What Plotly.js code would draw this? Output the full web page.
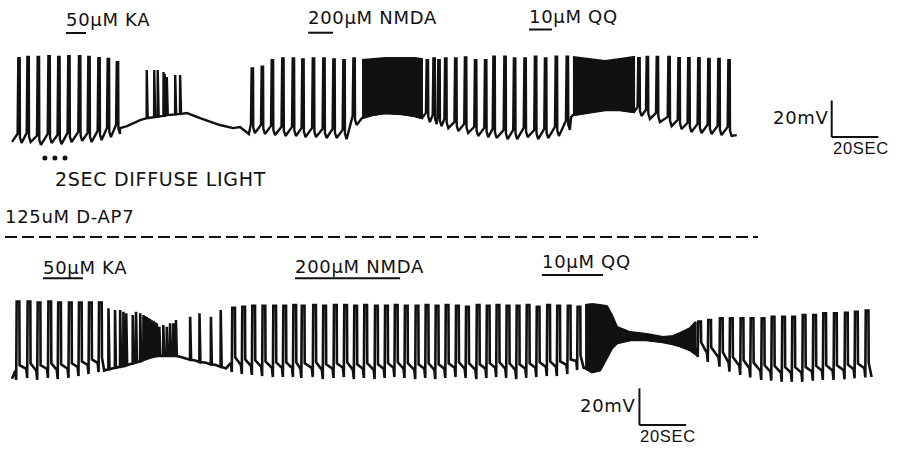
<!DOCTYPE html>
<html><head><meta charset="utf-8">
<script src="https://cdn.plot.ly/plotly-3.0.1.min.js"></script>
<style>html,body{margin:0;padding:0;background:#fff}.annotation-text{letter-spacing:0.7px}</style>
</head><body><div id="chart" style="width:900px;height:452px"></div>
<script>
// ===== DATA (time in s, membrane potential in mV) =====
// Upper record (control)
const topKnotT = [0.0, 46.3, 49.3, 54.9, 66.4, 75.0, 80.6, 89.1, 94.7, 97.7, 99.9, 101.5, 149.4, 239.6, 310.6];
const topKnotV = [-61.0, -53.5, -52.4, -49.1, -46.4, -45.3, -48.0, -51.8, -53.5, -52.9, -55.1, -56.7, -48.5, -47.5, -57.3];
const topSpikeT = [2.7, 6.6, 11.0, 15.6, 19.8, 24.1, 28.7, 32.7, 37.0, 41.0, 44.9,
  102.7, 107.0, 111.3, 115.8, 120.3, 124.4, 128.9, 133.4, 137.7, 142.0, 146.3,
  177.7, 180.6, 182.7, 185.6, 189.9, 194.1, 198.4, 202.7, 206.3, 211.0, 215.1, 219.6, 224.1, 228.4, 233.0, 237.7,
  268.4, 272.0, 276.3, 281.3, 285.6, 289.8, 294.1, 298.4, 302.7, 307.0];
const topSpikePeak = [-15.3, -14.7, -14.7, -14.2, -14.7, -14.2, -14.2, -14.7, -15.3, -15.8, -17.5,
  -20.9, -20.0, -16.4, -15.5, -15.5, -16.0, -15.5, -15.5, -16.0, -16.4, -15.5,
  -16.4, -15.5, -16.4, -15.5, -15.5, -14.9, -16.4, -16.4, -14.6, -14.6, -15.5, -15.5, -14.6, -15.5, -14.6, -14.6,
  -15.3, -14.7, -14.7, -14.7, -15.3, -15.3, -15.3, -15.8, -15.8, -16.4];
const topSpikeTrough = [-61.6, -61.1, -62.7, -61.6, -62.2, -61.1, -60.5, -61.1, -60.0, -58.4, -56.7,
  -56.2, -56.7, -57.3, -57.8, -57.8, -58.4, -58.4, -58.9, -58.9, -59.5, -51.8,
  -50.2, -51.3, -52.4, -53.5, -55.1, -56.2, -57.8, -58.4, -58.9, -59.5, -59.5, -58.4, -59.5, -58.9, -57.8, -54.5,
  -46.9, -48.5, -50.2, -52.4, -54.0, -55.6, -56.2, -56.7, -57.3, -57.8];
const topSmallT = [57.7, 60.9, 62.4, 64.9, 65.4, 66.3, 69.9, 72.0];
const topSmallPeak = [-21.8, -21.8, -21.8, -22.9, -24.0, -25.6, -24.5, -24.5];
const topSmallBase = [-48.0, -47.5, -47.2, -46.8, -46.6, -46.4, -46.0, -45.7];
const topBurstAT = [150.0, 154.3, 159.9, 167.1, 172.7, 175.7];
const topBurstATop = [-16.4, -15.8, -15.3, -15.3, -15.3, -15.8];
const topBurstABot = [-48.0, -46.4, -45.3, -45.8, -46.9, -48.0];
const topBurstBT = [240.4, 247.7, 254.1, 260.6, 266.6];
const topBurstBTop = [-14.7, -15.8, -16.9, -15.8, -14.7];
const topBurstBBot = [-46.4, -44.7, -43.6, -43.6, -44.7];
const lightT = [14.1, 18.4, 22.7];

// Lower record (125uM D-AP7)
const botKnotT = [0.0, 39.5, 72.0, 74.6, 78.9, 83.1, 87.4, 91.7, 245.0, 368.4];
const botKnotV = [-61.0, -56.5, -49.0, -49.8, -51.1, -52.2, -53.5, -55.3, -55.0, -60.0];
const botSpikeT = [2.0, 6.7, 11.0, 15.6, 19.8, 24.4, 28.7, 33.0, 37.3,
  94.4, 98.7, 103.0, 107.4, 112.0, 116.3, 120.6,
  124.2, 129.1, 133.4, 138.0, 142.4, 146.7, 151.0, 155.6, 159.9, 164.1, 168.4, 173.0, 177.3, 181.6,
  185.9, 190.3, 194.6, 199.2, 203.5, 207.7, 212.0, 216.3, 220.6, 224.9, 229.4, 233.7, 238.2, 242.4,
  294.1, 298.4, 303.4, 307.7, 312.3, 316.6, 321.3, 325.6, 330.1, 334.4, 338.9, 343.4, 347.7, 352.3, 357.0, 361.3, 365.9];
const botSpikePeak = [-18.9, -18.9, -19.4, -18.9, -19.4, -19.4, -19.4, -19.4, -19.4,
  -22.2, -21.7, -21.2, -21.2, -21.2, -21.2, -20.7,
  -21.2, -20.7, -21.2, -20.7, -20.7, -21.2, -20.7, -21.2, -21.2, -20.7, -21.2, -21.2, -20.7, -21.2,
  -20.7, -21.2, -21.7, -20.7, -21.2, -20.7, -21.2, -21.2, -20.7, -21.7, -20.7, -21.2, -21.2, -21.7,
  -29.8, -28.9, -28.0, -28.0, -28.0, -28.0, -28.0, -27.1, -27.1, -27.1, -26.2, -26.2, -25.3, -25.3, -25.0, -24.4, -23.8];
const botSpikeTrough = [-61.6, -60.5, -61.6, -60.5, -61.1, -60.5, -59.5, -58.4, -57.3,
  -57.3, -58.4, -58.9, -59.5, -60.0, -60.0, -60.0,
  -60.5, -60.0, -61.1, -60.5, -60.0, -61.1, -60.5, -61.1, -60.5, -60.0, -60.5, -61.1, -60.5, -61.1,
  -60.5, -60.0, -60.5, -61.1, -60.5, -60.0, -60.5, -61.1, -60.5, -60.0, -59.5, -59.5, -58.4, -56.2,
  -49.1, -51.8, -54.4, -57.1, -58.9, -60.2, -61.6, -62.0, -62.6, -62.6, -62.6, -62.0, -61.6, -61.6, -61.3, -60.7, -60.2];
const botSmallT = [41.3, 44.1, 46.3, 47.7, 48.9, 51.7, 53.1, 54.9, 56.3, 57.0, 57.7, 58.4, 59.1, 59.9, 60.6,
  61.3, 62.0, 63.1, 64.8, 66.3, 67.7, 69.1, 70.2, 76.3, 80.3, 85.2, 89.4];
const botSmallPeak = [-22.5, -23.5, -23.5, -24.4, -25.3, -26.2, -24.4, -25.3, -26.2, -26.8, -27.3, -27.9, -28.4, -29.0, -29.5,
  -30.1, -30.7, -32.6, -31.6, -32.6, -30.7, -30.7, -28.9, -27.1, -25.3, -27.1, -23.5];
const botSmallBase = [-55.8, -55.0, -54.4, -54.0, -53.6, -52.5, -52.0, -51.3, -50.7, -50.4, -50.1, -49.8, -49.5, -49.2, -49.0,
  -48.8, -48.6, -48.5, -48.5, -48.5, -48.5, -48.5, -48.6, -50.6, -51.9, -53.1, -54.5];
const botBurstT = [245.6, 248.6, 252.0, 255.0, 257.1, 259.3, 264.9, 272.1, 279.0, 283.3, 286.3, 290.6, 293.0];
const botBurstTop = [-20.7, -20.2, -20.7, -21.3, -26.2, -32.7, -35.5, -36.5, -38.2, -37.6, -36.0, -33.3, -30.0];
const botBurstBot = [-55.1, -57.3, -56.2, -49.1, -44.2, -41.5, -39.8, -39.8, -40.9, -42.0, -43.1, -45.3, -47.5];

// Drug applications (s)
const drugLabels = ['50µM KA', '200µM NMDA', '10µM QQ'];
const topDrugStart = [23.1, 126.9, 221.6];
const topDrugEnd = [31.7, 137.6, 231.4];
const botDrugStart = [13.3, 121.3, 227.1];
const botDrugEnd = [30.4, 166.3, 253.3];
const scaleSec = 20, scaleMV = 20;

// ===== RENDERING =====
const INK = '#111';
function buildLine(kT, kV, sT, sP, sB, mT, mP, mB, bursts, shape) {
  const ev = [];
  kT.forEach((t, i) => ev.push({t, pts: [[t, kV[i]]]}));
  bursts.forEach(b => b.t.forEach((t, i) => ev.push({t, pts: [[t, b.bot[i]]]})));
  sT.forEach((t, i) => ev.push({t, pts: shape(t, sP[i], sB[i])}));
  mT.forEach((t, i) => ev.push({t, pts: [[t, mB[i]], [t + 0.05, mP[i]], [t + 0.45, mB[i]]]}));
  ev.sort((a, b) => a.t - b.t);
  const x = [], y = [];
  ev.forEach(e => e.pts.forEach(p => { x.push(p[0]); y.push(p[1]); }));
  return {x, y};
}
const topShape = (t, p, b) => [[t - 0.3, b + 5], [t, p], [t + 0.6, p], [t + 0.7, b + 3], [t + 1.4, b]];
const botShape = (t, p, b) => [[t - 0.6, b + 5], [t - 0.2, b], [t, p], [t + 1.15, p], [t + 1.25, b + 8]];

const topBursts = [{t: topBurstAT, top: topBurstATop, bot: topBurstABot}, {t: topBurstBT, top: topBurstBTop, bot: topBurstBBot}];
const botBursts = [{t: botBurstT, top: botBurstTop, bot: botBurstBot}];

const topLine = buildLine(topKnotT, topKnotV, topSpikeT, topSpikePeak, topSpikeTrough, topSmallT, topSmallPeak, topSmallBase, topBursts, topShape);
const botLine = buildLine(botKnotT, botKnotV, botSpikeT, botSpikePeak, botSpikeTrough, botSmallT, botSmallPeak, botSmallBase, botBursts, botShape);

function burstTrace(b, yaxis) {
  return {x: b.t.concat(b.t.slice().reverse()), y: b.top.concat(b.bot.slice().reverse()),
    yaxis, mode: 'lines', fill: 'toself', fillcolor: INK, line: {color: INK, width: 2}, hoverinfo: 'skip'};
}
const data = [
  {x: topLine.x, y: topLine.y, yaxis: 'y', mode: 'lines', line: {color: INK, width: 2.4}},
  {x: botLine.x, y: botLine.y, yaxis: 'y2', mode: 'lines', line: {color: INK, width: 2.6}},
  ...topBursts.map(b => burstTrace(b, 'y')),
  ...botBursts.map(b => burstTrace(b, 'y2')),
  {x: lightT, y: lightT.map(() => -69.8), yaxis: 'y', mode: 'markers', marker: {color: INK, size: 5}}
];

const W = 900, H = 452;
const py = v => 1 - v / H;
const F = {family: 'DejaVu Sans', size: 18, color: INK};
const shapes = [], annotations = [];
function drugRow(starts, ends, barY, textY) {
  drugLabels.forEach((lab, i) => {
    shapes.push({type: 'line', xref: 'x', yref: 'paper', x0: starts[i], x1: ends[i], y0: py(barY[i]), y1: py(barY[i]), line: {color: INK, width: 2}});
    annotations.push({text: lab, xref: 'x', yref: 'paper', x: starts[i], y: py(textY[i]), xanchor: 'left', yanchor: 'middle', showarrow: false, font: F, borderpad: 0, xshift: -1});
  });
}
drugRow(topDrugStart, topDrugEnd, [33, 32.7, 29.5], [19.5, 18, 16.5]);
drugRow(botDrugStart, botDrugEnd, [278.3, 278.3, 275], [267.5, 266, 261]);

function scaleBar(t0, v0, yref) {
  shapes.push({type: 'line', xref: 'x', yref, x0: t0, x1: t0, y0: v0, y1: v0 + scaleMV, line: {color: INK, width: 2}});
  shapes.push({type: 'line', xref: 'x', yref, x0: t0, x1: t0 + scaleSec, y0: v0, y1: v0, line: {color: INK, width: 2}});
  annotations.push({text: scaleMV + 'mV', xref: 'x', yref, x: t0, y: v0 + 10.5, xanchor: 'right', yanchor: 'middle', showarrow: false, font: F, borderpad: 0, xshift: -2});
  annotations.push({text: scaleSec + 'SEC', xref: 'x', yref, x: t0, y: v0 - 5.8, xanchor: 'left', yanchor: 'middle', showarrow: false, font: {family: 'Liberation Sans', size: 16.5, color: INK}, borderpad: 0});
}
scaleBar(351.3, -58.4, 'y');
scaleBar(268.9, -86.2, 'y2');

annotations.push({text: '2SEC DIFFUSE LIGHT', xref: 'paper', yref: 'paper', x: 54 / W, y: py(179), xanchor: 'left', yanchor: 'middle', showarrow: false, font: {family: 'DejaVu Sans', size: 19, color: INK}, borderpad: 0});
annotations.push({text: '125uM D-AP7', xref: 'paper', yref: 'paper', x: 4 / W, y: py(216), xanchor: 'left', yanchor: 'middle', showarrow: false, font: F, borderpad: 0});
shapes.push({type: 'line', xref: 'paper', yref: 'paper', x0: 5 / W, x1: 758 / W, y0: py(237), y1: py(237), line: {color: INK, width: 2, dash: '12px,5px'}});

const layout = {
  width: W, height: H, margin: {l: 0, r: 0, t: 0, b: 0},
  paper_bgcolor: '#fff', plot_bgcolor: '#fff', showlegend: false,
  xaxis: {range: [-5.143, 380.57], visible: false, fixedrange: true},
  yaxis: {range: [-230.2, 16.4], visible: false, fixedrange: true},
  yaxis2: {range: [-100.9, 145.6], visible: false, overlaying: 'y', fixedrange: true},
  shapes, annotations
};
Plotly.newPlot('chart', data, layout, {staticPlot: true, displayModeBar: false});
</script></body></html>
